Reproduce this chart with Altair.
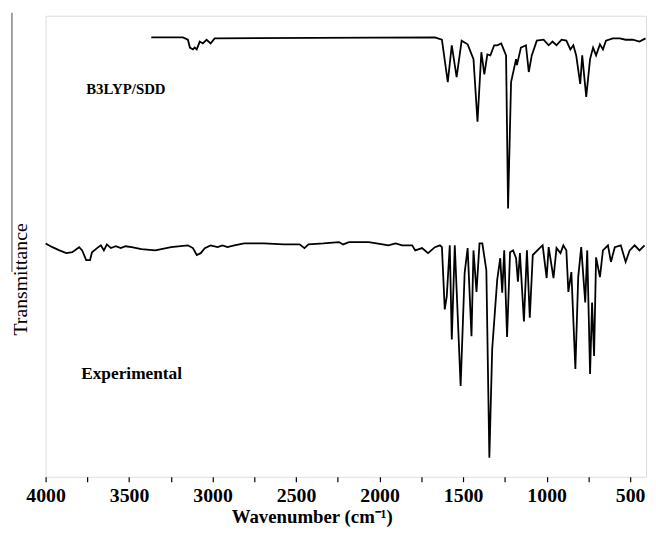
import altair as alt
import pandas as pd

# B3LYP/SDD computed spectrum (wavenumber, transmittance)
calc_wn = [3367, 3178, 3148, 3136, 3118, 3107, 3095, 3077, 3059, 3036, 3012, 2988,
           1669, 1627, 1592, 1568, 1539, 1509, 1473, 1438, 1414, 1391, 1373, 1355,
           1337, 1314, 1296, 1272, 1243, 1231, 1213, 1183, 1178, 1154, 1124, 1107,
           1089, 1059, 1018, 988, 965, 941, 911, 882, 858, 840, 823, 799, 787, 763,
           740, 722, 704, 681, 663, 645, 604, 562, 527, 485, 444, 408]
calc_t = [95.3, 95.3, 94.8, 93.1, 92.7, 93.1, 92.7, 94.4, 94.0, 94.8, 94.0, 95.1,
          95.3, 94.8, 85.6, 93.6, 86.7, 94.6, 93.8, 90.6, 77.0, 92.1, 87.3, 91.6,
          91.4, 93.6, 93.6, 94.0, 91.4, 58.2, 85.6, 90.6, 89.3, 93.1, 93.6, 87.8,
          91.4, 94.6, 94.8, 93.6, 94.4, 93.6, 94.8, 94.6, 92.7, 93.6, 91.4, 85.2,
          91.4, 82.4, 90.6, 93.1, 91.4, 93.8, 92.7, 94.6, 95.1, 95.1, 94.8, 94.8,
          94.4, 95.1]

# Experimental spectrum
exp_wn = [4000, 3959, 3917, 3876, 3840, 3799, 3781, 3757, 3734, 3722, 3692, 3669,
          3651, 3633, 3609, 3580, 3550, 3521, 3485, 3426, 3343, 3249, 3148, 3118,
          3095, 3071, 3047, 3012, 2970, 2941, 2911, 2870, 2811, 2692, 2574, 2479,
          2450, 2426, 2337, 2243, 2219, 2183, 2065, 1982, 1947, 1905, 1864, 1805,
          1787, 1746, 1710, 1669, 1639, 1627, 1610, 1598, 1580, 1568, 1550, 1515,
          1491, 1473, 1450, 1438, 1420, 1402, 1385, 1361, 1343, 1326, 1296, 1278,
          1266, 1254, 1237, 1219, 1201, 1183, 1172, 1160, 1136, 1118, 1101, 1083,
          1036, 1024, 1000, 988, 959, 941, 917, 900, 882, 870, 852, 828, 811, 793,
          769, 757, 740, 728, 716, 704, 681, 663, 633, 615, 592, 556, 527, 503,
          473, 444, 414]
exp_t = [50.6, 49.8, 49.1, 48.5, 48.7, 49.8, 49.1, 47.0, 47.0, 48.7, 49.6, 50.2,
         49.1, 50.4, 49.6, 50.0, 49.6, 50.0, 49.8, 49.4, 49.1, 49.8, 50.2, 49.6,
         48.1, 48.5, 49.6, 50.2, 49.8, 50.2, 49.8, 50.2, 50.6, 50.6, 50.4, 50.4,
         49.6, 50.4, 50.6, 50.9, 50.4, 50.9, 50.9, 50.4, 50.2, 50.6, 50.2, 50.2,
         49.1, 49.6, 48.5, 49.8, 50.2, 49.8, 36.3, 39.1, 50.2, 29.8, 50.2, 19.7,
         44.2, 49.6, 30.5, 49.1, 40.1, 50.6, 50.6, 44.8, 4.1, 27.7, 42.7, 47.4,
         39.9, 49.1, 30.3, 48.7, 49.1, 47.4, 42.3, 48.5, 33.7, 49.1, 34.5, 48.1,
         49.8, 50.2, 43.1, 49.8, 43.1, 49.6, 48.5, 50.2, 49.1, 40.1, 44.4, 23.4,
         43.3, 49.8, 37.8, 49.1, 22.3, 37.8, 26.2, 47.6, 43.3, 49.1, 50.2, 46.6,
         49.8, 50.2, 46.6, 49.1, 50.2, 49.1, 50.2]

label_text = ["B3LYP/SDD", "Experimental"]
label_wn = [3757, 3787]
label_t = [83.0, 21.2]

tick_values = [4000, 3750, 3500, 3250, 3000, 2750, 2500, 2250, 2000, 1750,
               1500, 1250, 1000, 750, 500]

df = pd.concat([
    pd.DataFrame({"wn": calc_wn, "t": calc_t, "series": "B3LYP/SDD"}),
    pd.DataFrame({"wn": exp_wn, "t": exp_t, "series": "Experimental"}),
])
lab = pd.DataFrame({"text": label_text, "wn": label_wn, "t": label_t})

FONT = "Liberation Serif"

xscale = alt.Scale(domain=[405, 4000], reverse=True, nice=False, zero=False)
yscale = alt.Scale(domain=[0, 100], nice=False, zero=False)

xaxis = alt.Axis(
    values=tick_values,
    labelExpr="datum.value % 500 == 0 ? datum.label : ''",
    format="d",
    grid=False,
    domain=False,
    tickColor="black",
    tickSize=5,
    tickWidth=1.2,
    labelFont=FONT,
    labelFontSize=20,
    labelFontWeight="bold",
    labelColor="black",
    labelPadding=4,
    labelFlush=False,
    labelOverlap=False,
    title="Wavenumber (cm⁻¹)",
    titleFont=FONT,
    titleFontSize=19,
    titleFontWeight="bold",
    titleColor="black",
    titleX=269,
    titleY=46,
    titleAlign="center",
    titleBaseline="alphabetic",
)
yaxis = alt.Axis(
    labels=False,
    ticks=False,
    domain=False,
    grid=False,
    title="Transmittance",
    titleFont=FONT,
    titleFontSize=20,
    titleFontWeight="normal",
    titleColor="black",
    titleAngle=-90,
    titleX=-25,
    titleY=266,
    titleAlign="center",
    titleBaseline="middle",
)

lines = alt.Chart(df).mark_line(strokeWidth=1.8, color="black", interpolate="linear").encode(
    x=alt.X("wn:Q", scale=xscale, axis=xaxis),
    y=alt.Y("t:Q", scale=yscale, axis=yaxis),
    detail="series:N",
    order="wn:Q",
)

text_base = alt.Chart(lab).encode(
    x=alt.X("wn:Q", scale=xscale),
    y=alt.Y("t:Q", scale=yscale),
    text="text:N",
)
text_calc = text_base.mark_text(
    font=FONT, fontSize=15, fontWeight="bold", align="left", baseline="alphabetic", color="black"
).transform_filter("datum.text == 'B3LYP/SDD'")
text_exp = text_base.mark_text(
    font=FONT, fontSize=17.5, fontWeight="bold", align="left", baseline="alphabetic", color="black"
).transform_filter("datum.text == 'Experimental'")

stray = alt.Chart(lab).mark_rule(color="#444444", strokeWidth=1).encode(
    x=alt.value(-34), y=alt.value(-3), y2=alt.value(259)
).transform_filter("datum.text == 'B3LYP/SDD'")

chart = alt.layer(lines, text_calc, text_exp, stray).properties(
    width=607,
    height=466,
    autosize=alt.AutoSizeParams(type="none"),
    padding={"left": 38, "top": 5, "right": 2, "bottom": 51},
).configure_view(stroke="black", strokeWidth=1.5).configure(background="white")

chart.save("out.html", embed_options={"renderer": "svg", "actions": False})
